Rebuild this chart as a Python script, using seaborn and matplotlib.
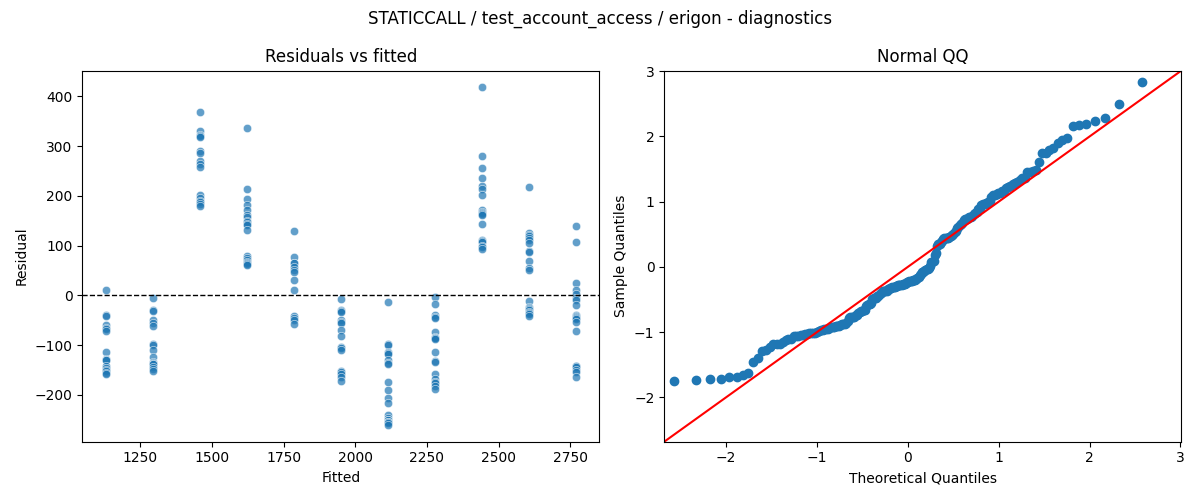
import numpy as np
import pandas as pd
import matplotlib
matplotlib.use("Agg")
import matplotlib.pyplot as plt
import seaborn as sns
from statistics import NormalDist

# fitted value of each group (one benchmark size per group)
fitted_levels = [1130, 1294, 1458, 1622, 1786, 1950, 2114, 2278, 2442, 2606, 2770]

# residuals, one list per fitted level
res_1130 = [10, -39, -41, -60, -66, -67, -72, -113, -128, -129, -130, -141, -146, -150, -151, -155, -157]
res_1294 = [-5, -30, -32, -49, -56, -61, -98, -100, -109, -124, -134, -136, -137, -138, -143, -147, -152]
res_1458 = [368, 330, 323, 320, 318, 291, 286, 270, 265, 258, 202, 196, 190, 188, 184, 179]
res_1622 = [337, 214, 193, 181, 171, 162, 157, 150, 147, 143, 141, 132, 80, 75, 72, 68, 66, 64, 62]
res_1786 = [130, 78, 66, 65, 58, 52, 47, 32, 12, -42, -46, -50, -57]
res_1950 = [-7, -30, -32, -34, -50, -54, -56, -70, -82, -103, -105, -109, -151, -153, -157, -164, -171]
res_2114 = [-13, -97, -100, -114, -115, -117, -129, -135, -137, -174, -190, -206, -217,
            -240, -246, -251, -251, -254, -254, -256, -260]
res_2278 = [-3, -17, -40, -44, -46, -74, -84, -85, -86, -88, -114, -132, -134, -157, -167,
            -174, -176, -181, -188]
res_2442 = [418, 281, 257, 237, 219, 214, 201, 171, 168, 166, 164, 162, 144, 112, 110, 107, 100, 97, 94]
res_2606 = [217, 125, 122, 119, 115, 112, 105, 90, 88, 70, 56, 52, -11, -24, -26, -28, -30,
            -33, -35, -38, -42]
res_2770 = [140, 108, 26, 10, 2, -5, -10, -19, -40, -42, -44, -46, -48, -54, -72, -141, -142,
            -144, -150, -154, -163]

residual_groups = [res_1130, res_1294, res_1458, res_1622, res_1786, res_1950,
                   res_2114, res_2278, res_2442, res_2606, res_2770]

title = "STATICCALL / test_account_access / erigon - diagnostics"

# long table for seaborn
rows = []
for lvl, grp in zip(fitted_levels, residual_groups):
    for r in grp:
        rows.append({"fitted": lvl, "residual": r})
df = pd.DataFrame(rows)

# normal QQ: standardised sample vs normal quantiles, positions i/(n+1)
resid = np.sort(df["residual"].to_numpy(dtype=float))
n = len(resid)
sample_q = (resid - resid.mean()) / resid.std()
nd = NormalDist()
theo_q = np.array([nd.inv_cdf(i / (n + 1)) for i in range(1, n + 1)])

fig, (ax1, ax2) = plt.subplots(1, 2, figsize=(12, 5), dpi=100)

sns.scatterplot(data=df, x="fitted", y="residual", alpha=0.7, ax=ax1)
ax1.axhline(0, color="black", linestyle="--", linewidth=1)
ax1.set_title("Residuals vs fitted")
ax1.set_xlabel("Fitted")
ax1.set_ylabel("Residual")

ax2.plot(theo_q, sample_q, "o", color="C0")
lims = [-2.68, 3.01]
ax2.set_xlim(lims)
ax2.set_ylim(lims)
ax2.axline((0, 0), slope=1, color="red")
ax2.set_title("Normal QQ")
ax2.set_xlabel("Theoretical Quantiles")
ax2.set_ylabel("Sample Quantiles")

fig.suptitle(title)
fig.tight_layout()
fig.savefig("out.png", dpi=100)
